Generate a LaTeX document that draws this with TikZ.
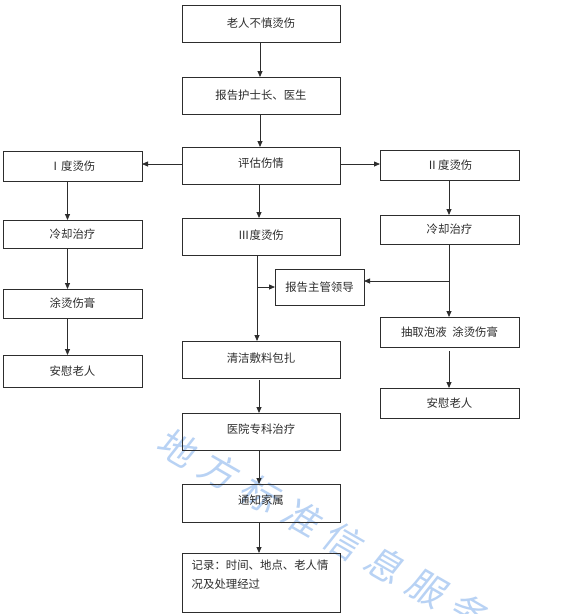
\documentclass[tikz,border=0pt]{standalone}
\usepackage{fontspec}
\setmainfont{Noto Sans CJK SC}
\newfontfamily\wmfont[FakeSlant=0.15]{Noto Sans CJK SC}
\usetikzlibrary{arrows.meta,calc}
\definecolor{ln}{RGB}{45,45,45}
\definecolor{wmblue}{RGB}{184,210,244}
\tikzset{
  box/.style={draw=ln, line width=0.8pt, inner sep=0pt, outer sep=0pt, text=ln, font=\fontsize{11.4}{19}\selectfont},
  conn/.style={draw=ln, line width=0.8pt, -{Triangle[length=6pt,width=5pt]}},
  wm/.style={text=wmblue, font=\wmfont\fontsize{37}{37}\selectfont, inner sep=0pt},
}
\begin{document}
\begin{tikzpicture}[x=1pt,y=-1pt]
\useasboundingbox (0,0) rectangle (573,614);
\fill[white] (0,0) rectangle (573,614);
\begin{scope}
\clip (0,0) rectangle (573,614);
\foreach \c [count=\i from 0] in {地,方,标,准,信,息,服,务,平}
  \node[wm, rotate=-30] (wm\i) at ({177+41.5*\i},{447+23.5*\i}) {\c};
\end{scope}
% middle column
\node[box, minimum width=158pt, minimum height=37pt] (b1) at (261,23.5) {老人不慎烫伤};
\node[box, minimum width=158pt, minimum height=37pt] (b2) at (261,95.5) {报告护士长、医生};
\node[box, minimum width=158pt, minimum height=37pt, text depth=6pt] (b3) at (261,165.5) {评估伤情};
\node[box, minimum width=158pt, minimum height=37pt, text depth=4pt] (m4) at (261,236.5) {Ⅲ度烫伤};
\node[box, minimum width=89pt, minimum height=36pt] (rp) at (319.5,287) {报告主管领导};
\node[box, minimum width=158pt, minimum height=37pt, text depth=4pt] (m5) at (261,359.5) {清洁敷料包扎};
\node[box, minimum width=158pt, minimum height=37pt, text depth=5pt] (m6) at (261,431.5) {医院专科治疗};
\node[box, minimum width=158pt, minimum height=38pt, text depth=6pt] (m7) at (261,503) {通知家属};
\node[box, minimum width=158pt, minimum height=59pt] (m8) at (261,582.5) {};
\node[text=ln, font=\fontsize{11.4}{19}\selectfont, anchor=north west, inner sep=0pt, align=left] (m8t) at (191.5,560) {记录：时间、地点、老人情\\况及处理经过};
% left column
\node[box, minimum width=139pt, minimum height=30pt] (l1) at (72.5,166) {Ⅰ度烫伤};
\node[box, minimum width=139pt, minimum height=28pt] (l2) at (72.5,234) {冷却治疗};
\node[box, minimum width=139pt, minimum height=29pt] (l3) at (72.5,303.5) {涂烫伤膏};
\node[box, minimum width=139pt, minimum height=32pt] (l4) at (72.5,371) {安慰老人};
% right column
\node[box, minimum width=139pt, minimum height=30pt] (r1) at (449.5,165) {Ⅱ度烫伤};
\node[box, minimum width=139pt, minimum height=29pt] (r2) at (449.5,229.5) {冷却治疗};
\node[box, minimum width=139pt, minimum height=30pt] (r3) at (449.5,332) {抽取泡液\hspace{0.5em}涂烫伤膏};
\node[box, minimum width=139pt, minimum height=30pt] (r4) at (449.5,403) {安慰老人};
% connectors middle
\draw[conn] ([xshift=-1pt]b1.south) -- ([xshift=-1pt]b2.north);
\draw[conn] ([xshift=-1pt]b2.south) -- ([xshift=-1pt]b3.north);
\draw[conn] ([yshift=1.5pt]b3.west) -- ([yshift=1.5pt]b3.west -| l1.east);
\draw[conn] ([yshift=1.5pt]b3.east) -- ([yshift=1.5pt]b3.east -| r1.west);
\draw[conn] ([xshift=-2pt]b3.south) -- ([xshift=-2pt]m4.north);
\draw[conn] ([xshift=-4pt]m4.south) -- ([xshift=-4pt]m5.north);
\coordinate (jl) at ([xshift=-4pt]m4.south |- rp.west);
\draw[conn] (jl) -- (rp.west);
\draw[conn] ([xshift=-2pt,yshift=-2pt]m5.south) -- ([xshift=-2pt]m6.north);
\draw[conn] ([xshift=-2pt]m6.south) -- ([xshift=-2pt]m7.north);
\draw[conn] ([xshift=-2pt]m7.south) -- ([xshift=-2pt]m8.north);
% connectors left
\draw[conn] ([xshift=-5pt]l1.south) -- ([xshift=-5pt]l2.north);
\draw[conn] ([xshift=-5pt]l2.south) -- ([xshift=-5pt]l3.north);
\draw[conn] ([xshift=-5pt]l3.south) -- ([xshift=-5pt]l4.north);
% connectors right
\draw[conn] ([xshift=-0.5pt]r1.south) -- ([xshift=-0.5pt]r2.north);
\draw[conn] ([xshift=-0.5pt]r2.south) -- ([xshift=-0.5pt]r3.north);
\coordinate (jr) at ($(r2.south |- rp.east)+(-0.5,-6)$);
\draw[conn] (jr) -- (jr -| rp.east);
\draw[conn] ([xshift=-0.5pt,yshift=-4pt]r3.south) -- ([xshift=-0.5pt]r4.north);
\end{tikzpicture}
\end{document}
